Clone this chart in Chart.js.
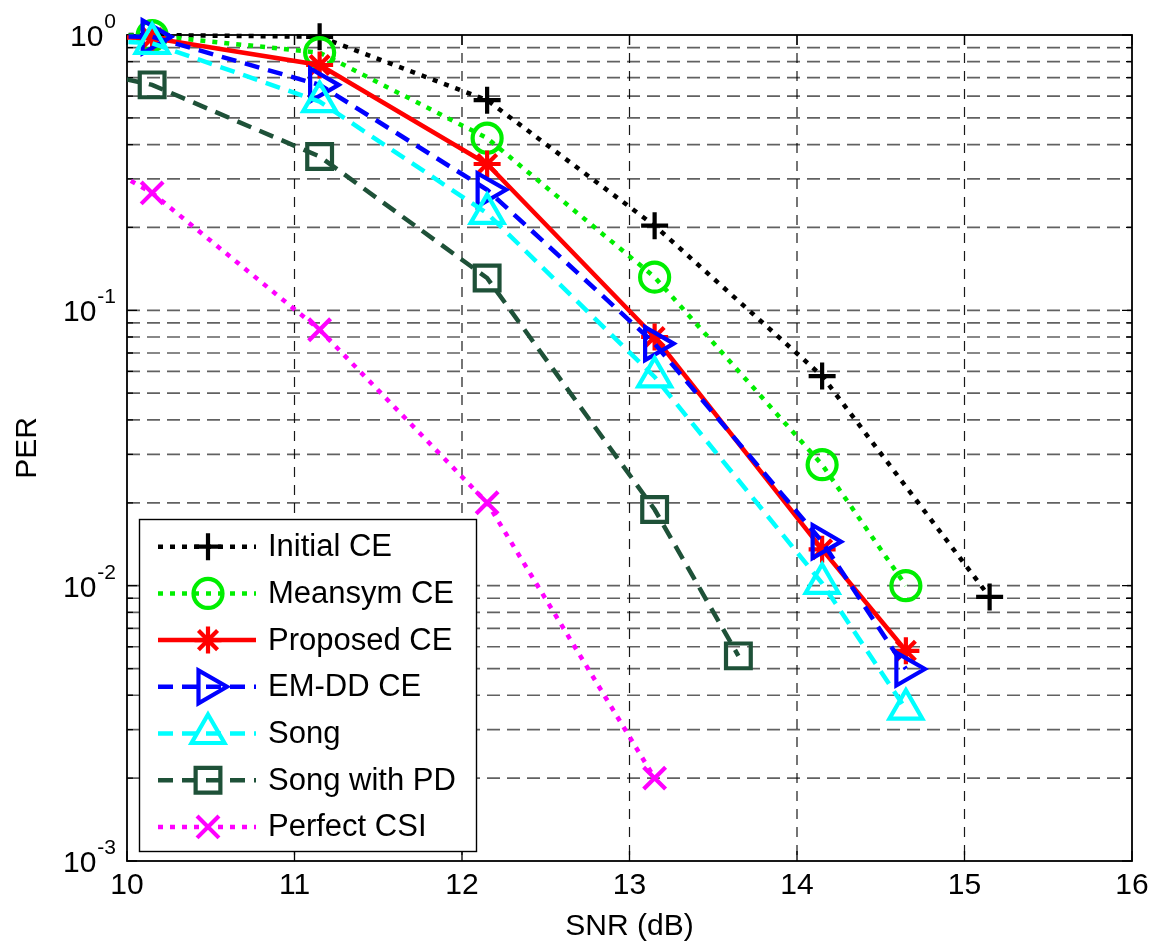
<!DOCTYPE html>
<html>
<head>
<meta charset="utf-8">
<title>PER vs SNR</title>
<script src="https://cdn.jsdelivr.net/npm/chart.js@4.4.1/dist/chart.umd.min.js"></script>
<style>
  html, body { margin: 0; padding: 0; background: #fff; }
  #wrap { width: 1166px; height: 948px; position: relative; }
</style>
</head>
<body>
<div id="wrap"><canvas id="c"></canvas></div>
<script>
// ---- data: SNR (dB) and packet error rate for each estimator ----
const snrInitial  = [9.15, 10.15, 11.15, 12.15, 13.15, 14.15, 15.15];
const perInitial  = [1.0, 1.0, 0.985, 0.58, 0.203, 0.0577, 0.0091];

const snrMeansym  = [9.15, 10.15, 11.15, 12.15, 13.15, 14.15, 14.65];
const perMeansym  = [1.0, 0.995, 0.863, 0.422, 0.132, 0.0275, 0.0100];

const snrProposed = [9.15, 10.15, 11.15, 12.15, 13.15, 14.15, 14.65];
const perProposed = [1.0, 0.975, 0.778, 0.340, 0.080, 0.01355, 0.0058];

const snrEmdd     = [9.15, 10.15, 11.15, 12.15, 13.15, 14.15, 14.65];
const perEmdd     = [1.0, 0.985, 0.659, 0.274, 0.0757, 0.01445, 0.00498];

const snrSong     = [9.15, 10.15, 11.15, 12.15, 13.15, 14.15, 14.65];
const perSong     = [1.0, 0.933, 0.573, 0.225, 0.0573, 0.0102, 0.00356];

const snrSongPd   = [9.15, 10.15, 11.15, 12.15, 13.15, 13.65];
const perSongPd   = [0.89, 0.659, 0.362, 0.131, 0.0189, 0.00556];

const snrPerfect  = [9.15, 10.15, 11.15, 12.15, 13.15];
const perPerfect  = [0.59, 0.267, 0.085, 0.020, 0.0020];

const seriesNames = ['Initial CE', 'Meansym CE', 'Proposed CE', 'EM-DD CE', 'Song', 'Song with PD', 'Perfect CSI'];

// axis ticks
const xTicks = [10, 11, 12, 13, 14, 15, 16];
const yDecades = [1, 0.1, 0.01, 0.001];
const yDecadeExponents = ['0', '-1', '-2', '-3'];
const yMinorSteps = [2, 3, 4, 5, 6, 7, 8, 9];

const FONT = '"Liberation Sans", Arial, Helvetica, sans-serif';

function pts(xs, ys) { return xs.map((x, i) => ({ x: x, y: ys[i] })); }

const styleList = [
  { color: '#000000', dash: [5, 7],  style: 'cross',    radius: 13.5, rot: 0 },
  { color: '#00ee00', dash: [5, 7],  style: 'circle',   radius: 14.5, rot: 0 },
  { color: '#ff0000', dash: [],      style: 'star',     radius: 13.5, rot: 0 },
  { color: '#0000ff', dash: [15, 9], style: 'triangle', radius: 19,   rot: 90 },
  { color: '#00ffff', dash: [15, 9], style: 'triangle', radius: 19,   rot: 0 },
  { color: '#1e5138', dash: [15, 9], style: 'rect',     radius: 17.5, rot: 0 },
  { color: '#ff00ff', dash: [5, 7],  style: 'crossRot', radius: 15.5, rot: 0 }
];

const seriesData = [
  pts(snrInitial, perInitial),
  pts(snrMeansym, perMeansym),
  pts(snrProposed, perProposed),
  pts(snrEmdd, perEmdd),
  pts(snrSong, perSong),
  pts(snrSongPd, perSongPd),
  pts(snrPerfect, perPerfect)
];

const datasets = seriesData.map((d, i) => {
  const s = styleList[i];
  return {
    label: seriesNames[i],
    data: d,
    borderColor: s.color,
    backgroundColor: 'rgba(0,0,0,0)',
    borderWidth: 4.5,
    borderDash: s.dash,
    pointStyle: s.style,
    pointRadius: s.radius,
    pointHoverRadius: s.radius,
    pointRotation: s.rot,
    pointBorderColor: s.color,
    pointBackgroundColor: 'rgba(0,0,0,0)',
    pointBorderWidth: 4.2,
    tension: 0,
    fill: false,
    order: seriesData.length - i,
    clip: { left: 0, top: false, right: false, bottom: false }
  };
});

// grid, inner tick marks and axes box drawn under the data
const gridPlugin = {
  id: 'matGrid',
  beforeDatasetsDraw(chart) {
    const { ctx, chartArea: a, scales: { x, y } } = chart;
    const yMinor = [];
    yDecades.slice(0, 3).forEach(dv => yMinorSteps.forEach(m => yMinor.push(dv / 10 * m)));
    ctx.save();
    // horizontal dashed grid
    ctx.setLineDash([13, 7]);
    ctx.strokeStyle = 'rgba(0,0,0,0.62)';
    ctx.lineWidth = 1.7;
    [...yDecades.slice(1, 3), ...yMinor].forEach(v => {
      const py = y.getPixelForValue(v);
      ctx.beginPath(); ctx.moveTo(a.left, py); ctx.lineTo(a.right, py); ctx.stroke();
    });
    // vertical dashed grid
    ctx.setLineDash([10, 8]);
    ctx.strokeStyle = 'rgba(0,0,0,0.9)';
    ctx.lineWidth = 1.2;
    xTicks.slice(1, -1).forEach(v => {
      const px = x.getPixelForValue(v);
      ctx.beginPath(); ctx.moveTo(px, a.top); ctx.lineTo(px, a.bottom); ctx.stroke();
    });
    // inner tick marks
    ctx.setLineDash([]);
    ctx.strokeStyle = '#000';
    ctx.lineWidth = 1.3;
    yDecades.forEach(v => {
      const py = y.getPixelForValue(v);
      ctx.beginPath();
      ctx.moveTo(a.left, py); ctx.lineTo(a.left + 10, py);
      ctx.moveTo(a.right, py); ctx.lineTo(a.right - 10, py);
      ctx.stroke();
    });
    yMinor.forEach(v => {
      const py = y.getPixelForValue(v);
      ctx.beginPath();
      ctx.moveTo(a.left, py); ctx.lineTo(a.left + 6, py);
      ctx.moveTo(a.right, py); ctx.lineTo(a.right - 6, py);
      ctx.stroke();
    });
    xTicks.forEach(v => {
      const px = x.getPixelForValue(v);
      ctx.beginPath();
      ctx.moveTo(px, a.bottom); ctx.lineTo(px, a.bottom - 10);
      ctx.moveTo(px, a.top); ctx.lineTo(px, a.top + 10);
      ctx.stroke();
    });
    // axes box
    ctx.lineWidth = 1.8;
    ctx.strokeRect(a.left, a.top, a.right - a.left, a.bottom - a.top);
    ctx.restore();
  }
};

// power-of-ten labels on the PER axis
const yLabelPlugin = {
  id: 'yPowLabels',
  afterDraw(chart) {
    const { ctx, scales: { y } } = chart;
    ctx.save();
    ctx.fillStyle = '#000';
    ctx.textBaseline = 'alphabetic';
    ctx.textAlign = 'left';
    const rightEdge = 116;
    yDecades.forEach((v, i) => {
      const py = y.getPixelForValue(v);
      const exp = yDecadeExponents[i];
      ctx.font = '21px ' + FONT;
      const ew = ctx.measureText(exp).width;
      ctx.font = '30px ' + FONT;
      const bw = ctx.measureText('10').width;
      const x0 = rightEdge - ew - bw - 1;
      ctx.fillText('10', x0, py + 11);
      ctx.font = '21px ' + FONT;
      ctx.fillText(exp, x0 + bw + 1, py - 7);
    });
    ctx.restore();
  }
};

// boxed legend with line + marker samples
const legendPlugin = {
  id: 'matLegend',
  afterDraw(chart) {
    const { ctx } = chart;
    const bx = 139, by = 519, bw = 337, bh = 332;
    ctx.save();
    ctx.fillStyle = '#fff';
    ctx.fillRect(bx, by, bw, bh);
    ctx.strokeStyle = '#000';
    ctx.lineWidth = 1.4;
    ctx.strokeRect(bx + 0.5, by + 0.5, bw, bh);
    chart.data.datasets.forEach((ds, i) => {
      const cy = 546.7 + i * 46.7;
      ctx.save();
      ctx.strokeStyle = ds.borderColor;
      ctx.lineWidth = ds.borderWidth;
      ctx.setLineDash(ds.borderDash);
      ctx.beginPath(); ctx.moveTo(158, cy); ctx.lineTo(256, cy); ctx.stroke();
      ctx.restore();
      ctx.save();
      ctx.strokeStyle = ds.pointBorderColor;
      ctx.fillStyle = 'rgba(0,0,0,0)';
      ctx.lineWidth = ds.pointBorderWidth;
      Chart.helpers.drawPoint(ctx, {
        pointStyle: ds.pointStyle, radius: ds.pointRadius,
        rotation: ds.pointRotation, borderWidth: ds.pointBorderWidth
      }, 208, cy);
      ctx.restore();
      ctx.fillStyle = '#000';
      ctx.font = '31px ' + FONT;
      ctx.textBaseline = 'middle';
      ctx.textAlign = 'left';
      ctx.fillText(ds.label, 268, cy + 1);
    });
    ctx.restore();
  }
};

new Chart(document.getElementById('c'), {
  type: 'line',
  data: { datasets: datasets },
  options: {
    responsive: true,
    maintainAspectRatio: false,
    animation: false,
    events: [],
    layout: { padding: { top: 35, right: 34, left: 0, bottom: 0 } },
    plugins: { legend: { display: false }, tooltip: { enabled: false }, title: { display: false } },
    scales: {
      x: {
        type: 'linear', min: 10, max: 16,
        afterBuildTicks(scale) { scale.ticks = xTicks.map(v => ({ value: v })); },
        ticks: { font: { size: 30, family: FONT }, color: '#000', padding: 7, maxRotation: 0, autoSkip: false },
        grid: { display: false, drawTicks: false },
        border: { display: false },
        title: { display: true, text: 'SNR (dB)', color: '#000', font: { size: 30, family: FONT }, padding: { top: 0, bottom: 3 } },
        afterFit(scale) { scale.height = 87; }
      },
      y: {
        type: 'logarithmic', min: 0.001, max: 1,
        ticks: { display: false },
        grid: { display: false, drawTicks: false },
        border: { display: false },
        title: { display: true, text: 'PER', color: '#000', font: { size: 30, family: FONT }, padding: { top: 10, bottom: 0 } },
        afterFit(scale) { scale.width = 127; }
      }
    }
  },
  plugins: [gridPlugin, yLabelPlugin, legendPlugin]
});
</script>
</body>
</html>
